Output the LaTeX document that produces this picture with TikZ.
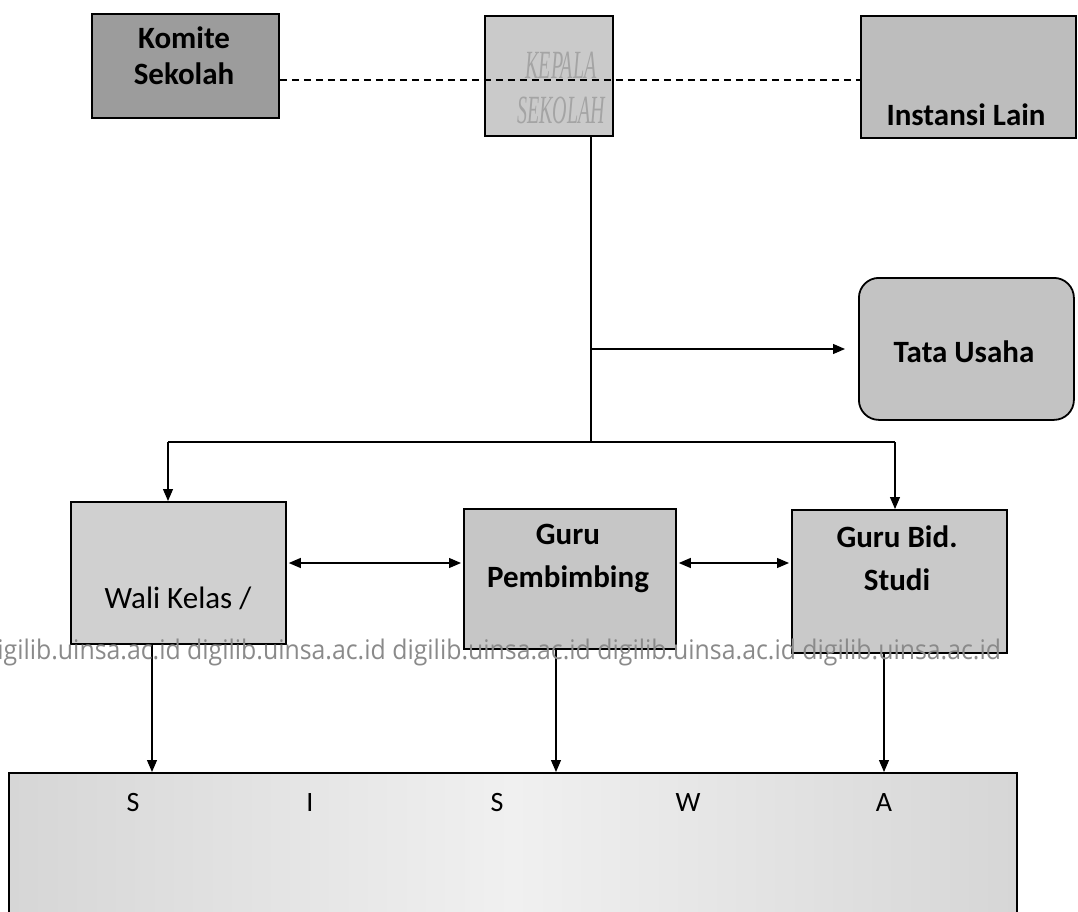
\documentclass[tikz,border=0pt]{standalone}
\usepackage{fontspec}
\setmainfont{Carlito}
\newfontfamily\kserif{Liberation Serif}
\newfontfamily\wmfont{Open Sans}
\usetikzlibrary{arrows.meta}
\definecolor{ckomite}{HTML}{9C9C9C}
\definecolor{ckepala}{HTML}{CACACA}
\definecolor{ckepalatxt}{HTML}{A4A4A4}
\definecolor{cinst}{HTML}{BDBDBD}
\definecolor{ctata}{HTML}{C3C3C3}
\definecolor{cwali}{HTML}{D0D0D0}
\definecolor{cgurup}{HTML}{C6C6C6}
\definecolor{cgurub}{HTML}{C9C9C9}
\definecolor{csiswaA}{HTML}{D6D6D6}
\definecolor{csiswaB}{HTML}{F0F0F0}
\definecolor{cwm}{HTML}{8A8A8A}
\begin{document}
\begin{tikzpicture}[x=1pt,y=-1pt,
  box/.style={draw=black,line width=1.8pt,anchor=north west,inner sep=0pt},
  lbl/.style={font=\fontsize{31}{36}\selectfont\bfseries,align=center,inner sep=0pt},
  lblwide/.style={font=\fontsize{31}{43}\selectfont\bfseries,align=center,inner sep=0pt},
  rlbl/.style={font=\fontsize{31}{36}\selectfont,align=center,inner sep=0pt},
  slbl/.style={font=\fontsize{28}{30}\selectfont,inner sep=0pt},
  conn/.style={line width=1.2pt},
  arr/.style={conn,-{Triangle[length=12pt,width=10pt]}},
  darr/.style={conn,{Triangle[length=12pt,width=10pt]}-{Triangle[length=12pt,width=10pt]}}]
\useasboundingbox (0,0) rectangle (1078,912);
\clip (0,0) rectangle (1078,912);

% boxes
\node[box,fill=ckomite,minimum width=187pt,minimum height=104pt] (komite) at (91,13) {};
\node[box,fill=ckepala,minimum width=128pt,minimum height=120pt] (kepala) at (484,15) {};
\node[box,fill=cinst,minimum width=215pt,minimum height=122pt] (inst) at (860,15) {};
\node[box,fill=ctata,rounded corners=20pt,minimum width=215pt,minimum height=142pt] (tata) at (858,277) {};
\node[box,fill=cwali,minimum width=215pt,minimum height=142pt] (wali) at (70,501) {};
\node[box,fill=cgurup,minimum width=212pt,minimum height=140pt] (gurup) at (463,508) {};
\node[box,fill=cgurub,minimum width=215pt,minimum height=143pt] (gurub) at (791,509) {};
\node[box,left color=csiswaA,right color=csiswaA,middle color=csiswaB,minimum width=1008pt,minimum height=160pt] (siswa) at (8,772) {};

% labels
\node[lbl] (tkomite) at (184,56) {Komite\\Sekolah};
\node[font=\kserif\itshape\fontsize{40}{45}\selectfont,text=ckepalatxt,xscale=0.5,align=center,inner sep=0pt] (tkepala) at (561,88) {KEPALA\\SEKOLAH};
\node[lbl] (tinst) at (966,115) {Instansi Lain};
\node[lbl] (ttata) at (964,352) {Tata Usaha};
\node[rlbl] (twali) at (178,598) {Wali Kelas /};
\node[lblwide] (tgurup) at (568,558) {Guru\\Pembimbing};
\node[lblwide] (tgurub) at (897,558) {Guru Bid.\\Studi};
\node[slbl] (s1) at (133,803) {S};
\node[slbl] (s2) at (310,803) {I};
\node[slbl] (s3) at (497,803) {S};
\node[slbl] (s4) at (688,803) {W};
\node[slbl] (s5) at (884,803) {A};

% connectors
\path (komite.east) ++(0,14) coordinate (d1);
\draw[line width=1.6pt,dash pattern=on 7pt off 5pt] (d1) -- (inst.west |- d1);
\path (kepala.south west) ++(107,0) coordinate (v0);
\coordinate (j1) at (591,349);
\coordinate (j2) at (591,442);
\coordinate (hl) at (168,442);
\coordinate (hr) at (895,442);
\draw[conn] (v0) -- (j2);
\draw[arr,shorten >=13pt] (j1) -- (tata.west |- j1);
\draw[conn] (hl) -- (hr);
\draw[arr] (hl) -- (wali.north -| hl);
\draw[arr] (hr) -- (gurub.north -| hr);
\coordinate (m) at (0,563);
\draw[darr] ([xshift=2pt]wali.east |- m) -- ([xshift=-2pt]gurup.west |- m);
\draw[darr] ([xshift=2pt]gurup.east |- m) -- ([xshift=-2pt]gurub.west |- m);
\coordinate (c1) at (152,0);
\coordinate (c2) at (556,0);
\coordinate (c3) at (884,0);
\draw[arr] (wali.south -| c1) -- (siswa.north -| c1);
\draw[arr] (gurup.south -| c2) -- (siswa.north -| c2);
\draw[arr] (gurub.south -| c3) -- (siswa.north -| c3);

% watermark
\node[anchor=west,inner sep=0pt,text=cwm,font=\wmfont\fontsize{27}{30}\selectfont,xscale=0.92] (wm) at (-18,652)
  {digilib.uinsa.ac.id digilib.uinsa.ac.id digilib.uinsa.ac.id digilib.uinsa.ac.id digilib.uinsa.ac.id};
\end{tikzpicture}
\end{document}
